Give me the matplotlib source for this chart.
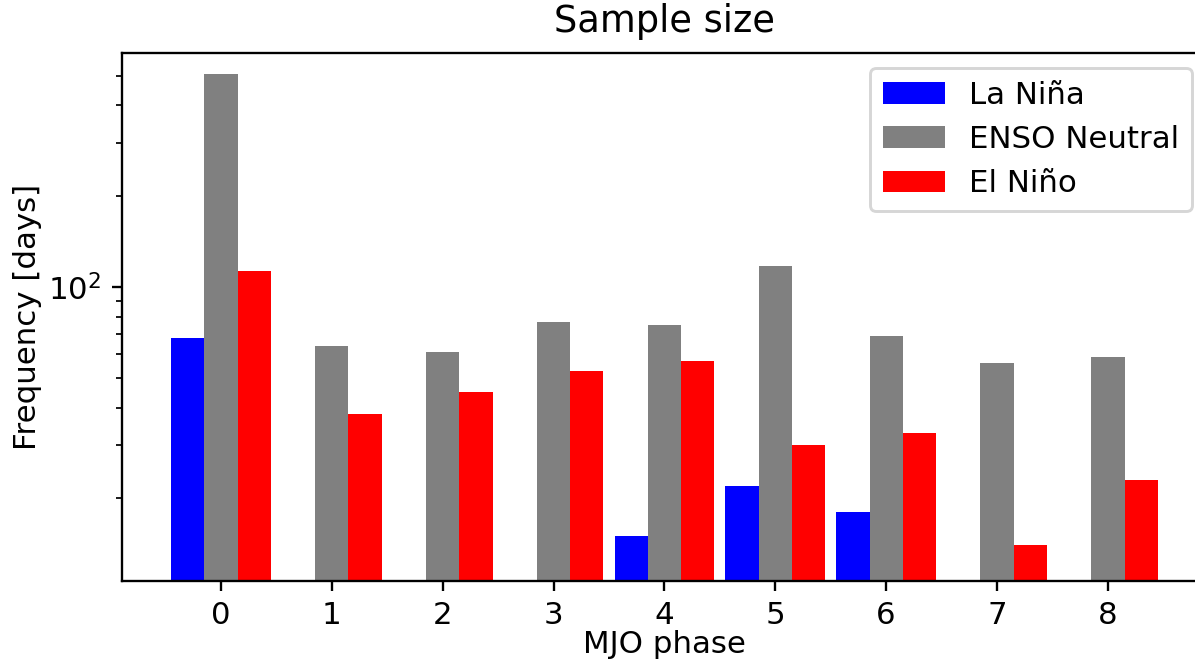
import numpy as np
import matplotlib
matplotlib.use('Agg')
import matplotlib.pyplot as plt

# Fases MJO e número de dias em cada categoria ENSO
phases = [0, 1, 2, 3, 4, 5, 6, 7, 8]
la_nina = [68, 0, 0, 0, 15, 22, 18, 0, 0]
neutral = [507, 64, 61, 77, 75, 118, 69, 56, 59]
el_nino = [113, 38, 45, 53, 57, 30, 33, 14, 23]

x = np.array(phases)
largura = 0.3

plt.rcParams['font.size'] = 10.6

fig = plt.figure(figsize=(1195 / 210, 659 / 210), dpi=210)
ax = fig.add_axes([0.1018, 0.1191, 0.9084, 0.8009])

ax.bar(x - largura, la_nina, width=largura, color='blue', label='La Niña')
ax.bar(x, neutral, width=largura, color='gray', label='ENSO Neutral')
ax.bar(x + largura, el_nino, width=largura, color='red', label='El Niño')

ax.set_yscale('log')
ax.set_ylim(10.7, 598)
ax.set_xticks(phases)
ax.set_xlabel('MJO phase', labelpad=0)
ax.set_ylabel('Frequency [days]', labelpad=2)
ax.set_title('Sample size', fontsize=12.6, pad=7)
ax.legend(loc='upper right')

fig.savefig('out.png', dpi=210)
